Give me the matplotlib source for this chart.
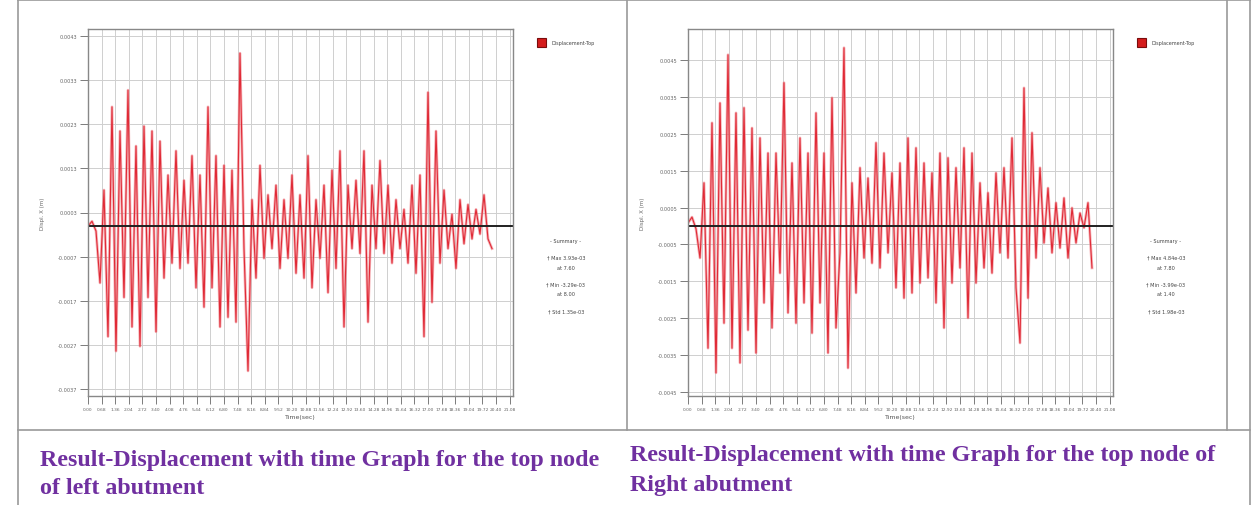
import matplotlib

matplotlib.use("Agg")
import matplotlib.pyplot as plt
import numpy as np
from matplotlib.lines import Line2D
from matplotlib.patches import Rectangle

# displacement histories (x1e-3 m), one sample every 0.2 s
DT = 0.2
left_disp = [
    0.00, 0.11, -0.11, -1.29, 0.82, -2.51, 2.71, -2.84, 2.16, -1.62, 3.09, -2.29,
    1.82, -2.73, 2.27, -1.62, 2.16, -2.40, 1.93, -1.18, 1.16, -0.84, 1.71, -0.96,
    1.04, -0.84, 1.60, -1.40, 1.16, -1.84, 2.71, -1.40, 1.60, -2.29, 1.38, -2.07,
    1.27, -2.18, 3.93, -0.51, -3.29, 0.60, -1.18, 1.38, -0.73, 0.71, -0.51, 0.93,
    -0.96, 0.60, -0.73, 1.16, -1.07, 0.71, -1.18, 1.60, -1.40, 0.60, -0.73, 0.93,
    -1.51, 1.27, -0.96, 1.71, -2.29, 0.93, -0.51, 1.04, -0.62, 1.71, -2.18, 0.93,
    -0.51, 1.49, -0.62, 0.93, -0.84, 0.60, -0.51, 0.38, -0.84, 0.93, -1.07, 1.16,
    -2.51, 3.04, -1.73, 2.16, -0.84, 0.82, -0.51, 0.27, -0.96, 0.60, -0.40, 0.49,
    -0.29, 0.38, -0.18, 0.71, -0.29, -0.51,
]
right_disp = [
    0.08, 0.24, -0.08, -0.87, 1.17, -3.32, 2.80, -3.99, 3.34, -2.64, 4.65, -3.32,
    3.07, -3.72, 3.21, -2.83, 2.66, -3.45, 2.39, -2.09, 1.98, -2.77, 1.98, -1.28,
    3.89, -2.36, 1.71, -2.64, 2.39, -2.09, 1.98, -2.91, 3.07, -2.09, 1.98, -3.45,
    3.48, -2.77, -0.73, 4.84, -3.86, 1.17, -1.82, 1.58, -0.87, 1.30, -1.01, 2.26,
    -1.14, 1.98, -0.73, 1.44, -1.68, 1.71, -1.96, 2.39, -1.82, 2.12, -1.55, 1.71,
    -1.41, 1.44, -2.09, 1.98, -2.77, 1.85, -1.55, 1.58, -1.14, 2.12, -2.50, 1.98,
    -1.55, 1.17, -1.14, 0.90, -1.28, 1.44, -0.73, 1.58, -0.87, 2.39, -1.68, -3.18,
    3.75, -1.96, 2.53, -0.87, 1.58, -0.46, 1.03, -0.73, 0.63, -0.60, 0.76, -0.87,
    0.49, -0.46, 0.35, -0.05, 0.63, -1.14,
]

left_yticks = [4.31, 3.31, 2.31, 1.31, 0.31, -0.69, -1.69, -2.69, -3.69]
right_yticks = [4.50, 3.50, 2.50, 1.50, 0.50, -0.50, -1.50, -2.50, -3.50, -4.50]
left_summary = ["- Summary -", "\u2020 Max 3.93e-03", "at 7.60", "\u2020 Min -3.29e-03", "at 8.00", "\u2020 Std 1.35e-03"]
right_summary = ["- Summary -", "\u2020 Max 4.84e-03", "at 7.80", "\u2020 Min -3.99e-03", "at 1.40", "\u2020 Std 1.98e-03"]
left_caption = ["Result-Displacement with time Graph for the top node", "of left abutment"]
right_caption = ["Result-Displacement with time Graph for the top node of", "Right abutment"]

W, H = 1255, 506
fig = plt.figure(figsize=(W / 100, H / 100), dpi=100)
fig.patch.set_facecolor("white")


def fx(px):
    return px / W


def fy(py):
    return 1 - py / H


def draw_panel(x0, disp, yticks, ylim, summary):
    ax = fig.add_axes([fx(x0), fy(397), fx(425), (397 - 30) / H])
    t = np.arange(len(disp)) * DT
    ax.plot(t, disp, color="#f08088", lw=2.0, alpha=0.6)
    ax.plot(t, disp, color="#e02a36", lw=0.8)
    ax.axhline(0, color="#202020", lw=1.4)
    xt = np.arange(32) * 0.68
    ax.set_xlim(0, 21.25)
    ax.set_ylim(*ylim)
    ax.set_xticks(xt)
    ax.set_xticklabels([f"{v:.2f}" for v in xt], fontsize=3.2, color="#555555")
    ax.set_yticks(yticks)
    ax.set_yticklabels([f"{v / 1000:.4f}" for v in yticks], fontsize=3.6, color="#555555")
    ax.grid(True, color="#cfcfcf", lw=0.7)
    ax.tick_params(direction="out", length=6, width=0.6, colors="#666666", pad=2)
    for s in ax.spines.values():
        s.set_color("#888888")
        s.set_linewidth(1.0)
    ax.set_xlabel("Time(sec)", fontsize=4.5, color="#555555", labelpad=2)
    ax.set_ylabel("Displ. X (m)", fontsize=4, color="#666666", labelpad=9)

    # legend block and summary on the right of the plot
    fig.patches.append(Rectangle((fx(x0 + 449), fy(48)), fx(9), 9 / H, transform=fig.transFigure,
                                 facecolor="#d41c1c", edgecolor="#7a0c0c", lw=0.8))
    fig.text(fx(x0 + 463), fy(44), "Displacement-Top", fontsize=3.5, color="#444444", va="center")
    ys = [242, 258, 268, 285, 295, 312]
    for txt, yy in zip(summary, ys):
        fig.text(fx(x0 + 478), fy(yy), txt, fontsize=3.6, color="#444444", ha="center", va="center")


draw_panel(88, left_disp, left_yticks, (-3.86, 4.48), left_summary)
draw_panel(688, right_disp, right_yticks, (-4.62, 5.35), right_summary)

# frame lines of the two screenshots
border = "#9a9a9a"
for xs, ys in [([18, 18], [0, 506]), ([1250, 1250], [0, 506]), ([18, 1250], [431, 431]),
               ([627, 627], [0, 431]), ([1227, 1227], [0, 431]), ([18, 1250], [1, 1])]:
    fig.add_artist(Line2D([fx(v) for v in xs], [fy(v) for v in ys], color=border, lw=1.2,
                          transform=fig.transFigure))

cap_style = dict(fontsize=17.3, family="Liberation Serif", weight="bold", color="#7030a0", va="baseline")
for line, yy in zip(left_caption, [466, 494]):
    fig.text(fx(40), fy(yy), line, **cap_style)
for line, yy in zip(right_caption, [461, 491]):
    fig.text(fx(630), fy(yy), line, **cap_style)

fig.savefig("out.png", dpi=100)
